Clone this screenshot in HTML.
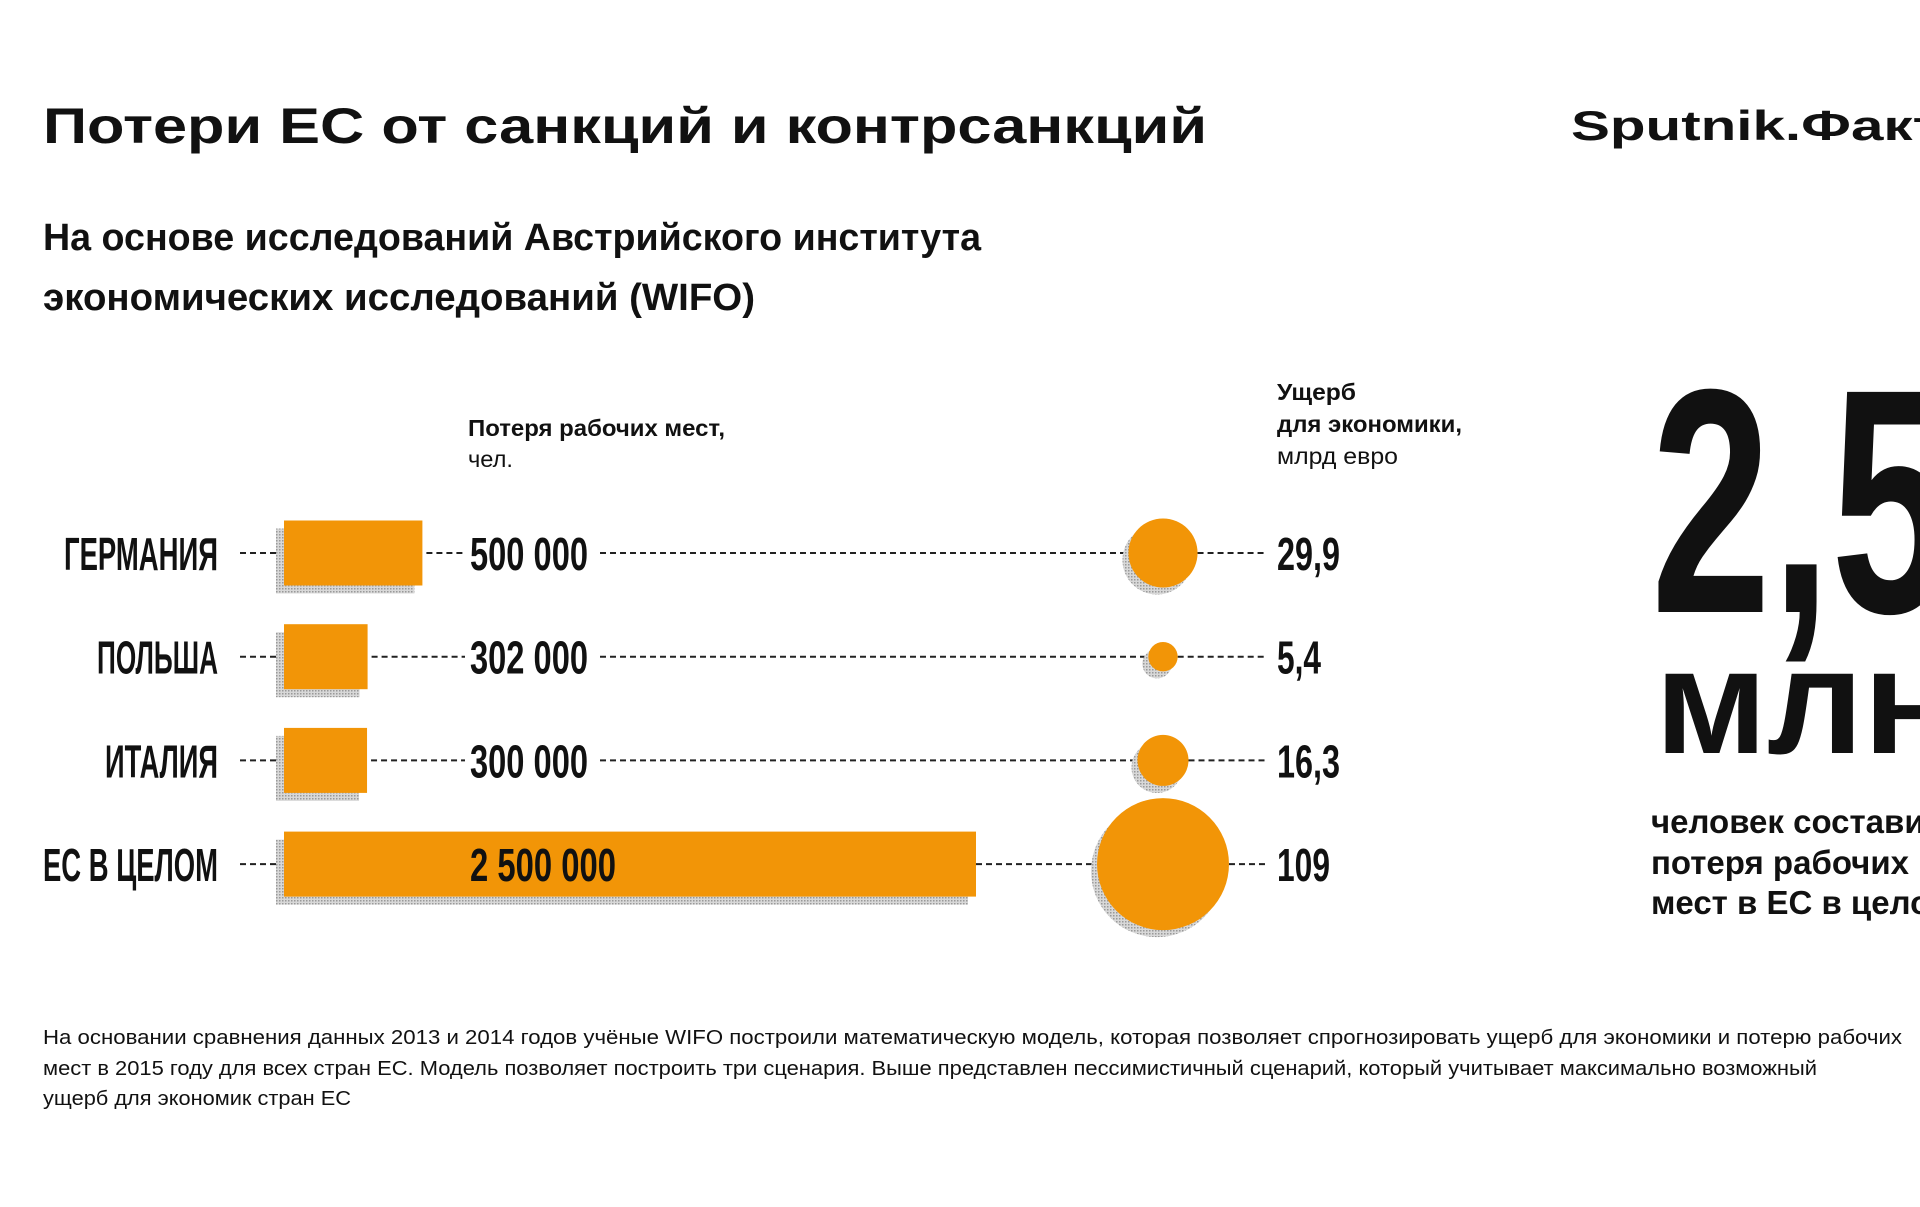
<!DOCTYPE html>
<html><head><meta charset="utf-8"><style>
html,body{margin:0;padding:0;background:#fff;}
svg{display:block;}
text{font-family:"Liberation Sans","DejaVu Sans",sans-serif;fill:#111;}
.cond{font-family:"Liberation Sans Narrow","Liberation Sans",sans-serif;font-weight:bold;}
</style></head><body>
<svg id="chart" width="1920" height="1207" viewBox="0 0 1920 1207" xmlns="http://www.w3.org/2000/svg">
<defs>
<pattern id="hatch" width="3" height="3" patternUnits="userSpaceOnUse"><rect width="3" height="3" fill="#d8d8d8"/><rect width="1.5" height="1.5" fill="#999"/></pattern>
</defs>
<text x="43" y="143" font-size="50" font-weight="bold" textLength="1164" lengthAdjust="spacingAndGlyphs">Потери ЕС от санкций и контрсанкций</text>
<text x="1571" y="140" font-size="42" font-weight="bold" textLength="420" lengthAdjust="spacingAndGlyphs">Sputnik.Факты</text>
<text x="43" y="250" font-size="38" font-weight="bold" textLength="938" lengthAdjust="spacingAndGlyphs">На основе исследований Австрийского института</text>
<text x="43" y="310" font-size="38" font-weight="bold" textLength="712" lengthAdjust="spacingAndGlyphs">экономических исследований (WIFO)</text>
<text x="468" y="436" font-size="23" font-weight="bold" textLength="257" lengthAdjust="spacingAndGlyphs">Потеря рабочих мест,</text>
<text x="468" y="467" font-size="23" textLength="45" lengthAdjust="spacingAndGlyphs">чел.</text>
<text x="1277" y="400" font-size="23" font-weight="bold" textLength="79" lengthAdjust="spacingAndGlyphs">Ущерб</text>
<text x="1277" y="432" font-size="23" font-weight="bold" textLength="185" lengthAdjust="spacingAndGlyphs">для экономики,</text>
<text x="1277" y="464" font-size="23" textLength="121" lengthAdjust="spacingAndGlyphs">млрд евро</text>
<g id="rows"></g>
<text x="1651" y="612" class="cond" font-size="320" textLength="300" lengthAdjust="spacingAndGlyphs">2,5</text>
<text x="1655" y="753" font-size="150" font-weight="bold" textLength="300" lengthAdjust="spacingAndGlyphs">млн</text>
<text x="1651" y="833" font-size="33" font-weight="bold">человек составит</text>
<text x="1651" y="874" font-size="33" font-weight="bold">потеря рабочих</text>
<text x="1651" y="914" font-size="33" font-weight="bold">мест в ЕС в целом</text>
<text x="43" y="1044" font-size="20" textLength="1859" lengthAdjust="spacingAndGlyphs">На основании сравнения данных 2013 и 2014 годов учёные WIFO построили математическую модель, которая позволяет спрогнозировать ущерб для экономики и потерю рабочих</text>
<text x="43" y="1075" font-size="20" textLength="1774" lengthAdjust="spacingAndGlyphs">мест в 2015 году для всех стран ЕС. Модель позволяет построить три сценария. Выше представлен пессимистичный сценарий, который учитывает максимально возможный</text>
<text x="43" y="1105" font-size="20" textLength="308" lengthAdjust="spacingAndGlyphs">ущерб для экономик стран ЕС</text>
</svg>
<script>
const categories = ["ГЕРМАНИЯ", "ПОЛЬША", "ИТАЛИЯ", "ЕС В ЦЕЛОМ"];
const jobsLost = [500000, 302000, 300000, 2500000];
const jobsLabels = ["500 000", "302 000", "300 000", "2 500 000"];
const damage = [29.9, 5.4, 16.3, 109];
const damageLabels = ["29,9", "5,4", "16,3", "109"];

const NS = "http://www.w3.org/2000/svg";
const g = document.getElementById("rows");
const barX0 = 284, barScale = 692 / 2500000;
const rowY = i => 553 + i * 103.7;
const xBar = v => barX0 + v * barScale;
const rCircle = v => 6.32 * Math.sqrt(v);
const cx = 1163;
const labelW = [154, 121, 113, 175];
const numW = [118, 118, 118, 146];
const dmgW = [63, 44, 63, 53];
function mk(tag, attrs, parent) {
  const e = document.createElementNS(NS, tag);
  for (const k in attrs) e.setAttribute(k, attrs[k]);
  (parent || g).appendChild(e);
  return e;
}
function dash(x1, x2, y) {
  if (x2 <= x1) return;
  const l = mk("line", {x1: x1, x2: x2, y1: y, y2: y, stroke: "#222", "stroke-width": 2, "stroke-dasharray": "6 4"});
  
  
}
categories.forEach((c, i) => {
  const y = rowY(i);
  const bx = xBar(jobsLost[i]);
  const r = rCircle(damage[i]);
  const h = 65;
  const valEnd = 470 + numW[i];
  dash(240, barX0, y);
  if (bx < 470) dash(bx + 4, 465, y);
  if (bx < valEnd) dash(valEnd + 12, cx - r, y); else dash(bx, cx - r, y);
  dash(cx + r, 1265, y);
  const sh = mk("rect", {x: barX0 - 8, y: y - h / 2 + 8, width: bx - barX0, height: h, fill: "url(#hatch)"});
  
  
  const b = mk("rect", {x: barX0, y: y - h / 2, width: bx - barX0, height: h, fill: "#f29507"});
  
  
  const cs = mk("circle", {cx: cx - 6, cy: y + 7, r: r, fill: "url(#hatch)"});
  
  
  const cc = mk("circle", {cx: cx, cy: y, r: r, fill: "#f29507"});
  
  
  const lt = mk("text", {x: 218, y: y + 17, "text-anchor": "end", "font-size": 46, class: "cond", textLength: labelW[i], lengthAdjust: "spacingAndGlyphs"});
  lt.textContent = c;
  
  
  const vt = mk("text", {x: 470, y: y + 17, "font-size": 46, class: "cond", textLength: numW[i], lengthAdjust: "spacingAndGlyphs"});
  vt.textContent = jobsLabels[i];
  
  
  const dt = mk("text", {x: 1277, y: y + 17, "font-size": 46, class: "cond", textLength: dmgW[i], lengthAdjust: "spacingAndGlyphs"});
  dt.textContent = damageLabels[i];
  
  
});
</script>
</body></html>
